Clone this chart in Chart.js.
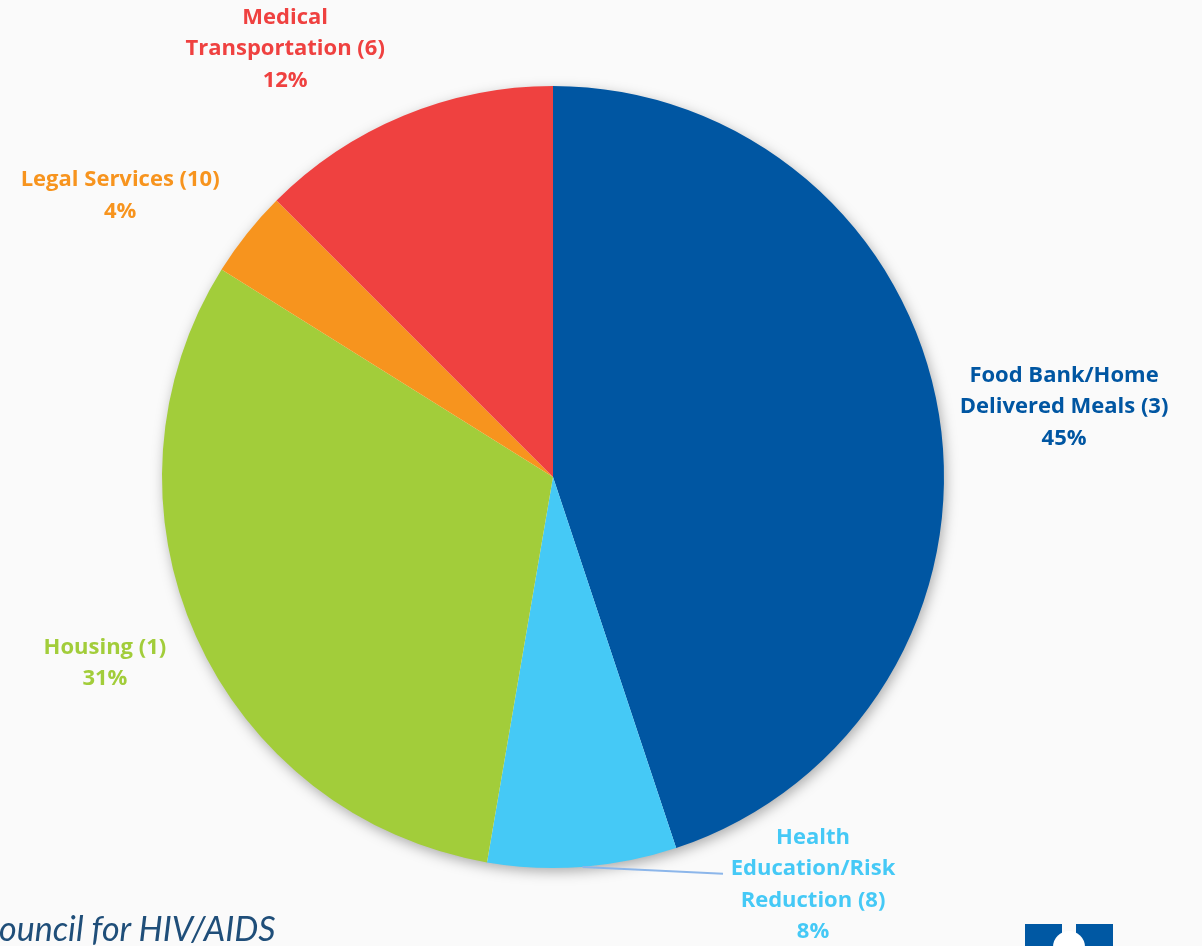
<!DOCTYPE html>
<html>
<head>
<meta charset="utf-8">
<script src="https://cdn.jsdelivr.net/npm/chart.js@4.4.1/dist/chart.umd.min.js"></script>
<style>
  html, body { margin: 0; padding: 0; background: #fafafa; overflow: hidden; }
  #wrap { position: relative; width: 1202px; height: 946px; }
  #footer {
    position: absolute; left: -1px; top: 907px; line-height: 1;
    font: italic 34px Lato, sans-serif; color: #1f4e79; white-space: nowrap;
  }
  .logo { position: absolute; background: #0058a3; top: 924px; height: 22px; width: 37px; }
  #dot { position: absolute; left: 1053px; top: 931px; width: 32px; height: 32px; border-radius: 50%; background: #fff; }
</style>
</head>
<body>
<div id="wrap">
  <canvas id="myChart" width="1202" height="946"></canvas>
  <div id="footer">ouncil for HIV/AIDS</div>
  <div class="logo" style="left:1025px"></div>
  <div class="logo" style="left:1076px"></div>
  <div id="dot"></div>
</div>
<script>
const categories = [
  ["Food Bank/Home", "Delivered Meals (3)"],
  ["Health", "Education/Risk", "Reduction (8)"],
  ["Housing (1)"],
  ["Legal Services (10)"],
  ["Medical", "Transportation (6)"],
];
const shares = [44.9, 7.8, 31.2, 3.6, 12.5];
const percentLabels = ["45%", "8%", "31%", "4%", "12%"];
const colors = ["#0056a2", "#45c9f6", "#a2cd3a", "#f7941e", "#ef4140"];

// label block centre, as multiples of the radius from the pie centre
const labelPos = [[1.307, -0.179], [0.665, 1.043], [-1.146, 0.476], [-1.107, -0.719], [-0.685, -1.095]];

const shadowPlugin = {
  id: "shadow",
  beforeDatasetsDraw(chart) {
    const arc = chart.getDatasetMeta(0).data[0];
    const ctx = chart.ctx;
    ctx.save();
    ctx.shadowColor = "rgba(0,0,0,0.35)";
    ctx.shadowBlur = 14;
    ctx.shadowOffsetX = 2;
    ctx.shadowOffsetY = 4;
    ctx.fillStyle = "#fafafa";
    ctx.beginPath();
    ctx.arc(arc.x, arc.y, arc.outerRadius - 1, 0, Math.PI * 2);
    ctx.fill();
    ctx.restore();
  },
};

const labelPlugin = {
  id: "labels",
  afterDatasetsDraw(chart) {
    const meta = chart.getDatasetMeta(0);
    const ctx = chart.ctx;
    const cx = meta.data[0].x, cy = meta.data[0].y, r = meta.data[0].outerRadius;
    ctx.save();
    // leader line for the small health slice
    const h = meta.data[1];
    const mid = (h.startAngle + h.endAngle) / 2;
    ctx.strokeStyle = "#8cb6ea";
    ctx.lineWidth = 2;
    ctx.beginPath();
    ctx.moveTo(cx + Math.cos(mid) * r, cy + Math.sin(mid) * r);
    ctx.lineTo(cx + labelPos[1][0] * r - 90, cy + labelPos[1][1] * r - 11);
    ctx.stroke();

    ctx.font = "bold 22px 'Open Sans', sans-serif";
    ctx.textAlign = "center";
    ctx.textBaseline = "middle";
    const lh = 31.5;
    categories.forEach((lines, i) => {
      const all = lines.concat([percentLabels[i]]);
      const x = cx + labelPos[i][0] * r;
      const y0 = cy + labelPos[i][1] * r - (all.length - 1) * lh / 2;
      ctx.fillStyle = colors[i];
      all.forEach((t, j) => ctx.fillText(t, x, y0 + j * lh));
    });
    ctx.restore();
  },
};

new Chart(document.getElementById("myChart"), {
  type: "pie",
  data: {
    labels: categories.map(l => l.join(" ")),
    datasets: [{
      data: shares,
      backgroundColor: colors,
      borderWidth: 0,
    }],
  },
  options: {
    responsive: false,
    animation: false,
    layout: { padding: { top: 86, bottom: 78, left: 162, right: 258 } },
    plugins: { legend: { display: false }, tooltip: { enabled: false } },
  },
  plugins: [shadowPlugin, labelPlugin],
});
</script>
</body>
</html>
